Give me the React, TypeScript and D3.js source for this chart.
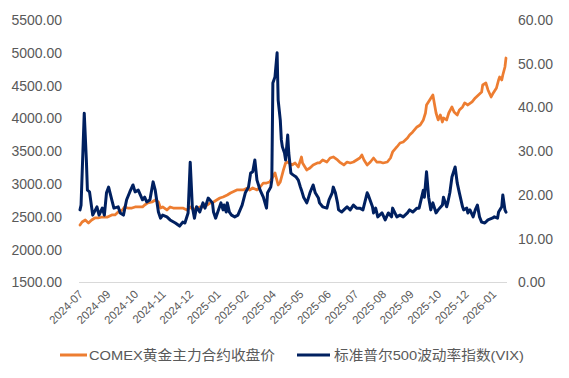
import React from "react";
import * as d3 from "d3";

// trading-day index (0 = 2024-07-01) and values
const goldT = [0,2,5,8,11,14,17,21,24,26,30,33,36,40,42,45,49,52,55,59,61,64,68,71,74,76,78,82,85,88,92,97,101,104,107,110,113,116,120,123,126,129,132,135,139,142,144,148,151,154,158,160,163,167,170,173,176,179,182,184,187,189,192,194,196,200,203,206,209,210,214,217,220,224,226,229,233,236,239,243,245,249,252,255,258,261,264,266,268,271,274,277,280,283,286,290,293,295,299,302,305,309,311,314,318,321,324,326,327,330,333,335,336,338,340,342,343,346,348,351,353,356,358,361,363,366,370,373,376,379,380,383,385,388,390,393,395,396,398,399,401,402];
const goldV = [2376,2422,2452,2407,2452,2483,2483,2498,2498,2498,2529,2529,2574,2605,2651,2635,2635,2651,2651,2651,2681,2712,2727,2757,2727,2635,2651,2605,2651,2635,2635,2635,2605,2651,2605,2635,2651,2651,2681,2712,2727,2757,2788,2803,2834,2864,2879,2910,2910,2910,2940,2910,2940,2910,2955,3016,3016,3032,3108,3169,2986,3032,3215,3321,3336,3291,3321,3260,3413,3321,3215,3245,3291,3321,3321,3367,3336,3397,3413,3367,3336,3291,3336,3321,3336,3367,3397,3443,3367,3291,3336,3397,3336,3336,3321,3336,3397,3489,3565,3626,3641,3702,3748,3794,3870,3900,3977,4083,4205,4281,4358,4175,4083,3977,4053,3946,4007,3977,4083,4175,4098,4053,4129,4175,4236,4205,4251,4312,4358,4403,4510,4540,4434,4327,4388,4464,4586,4632,4586,4662,4784,4921];

const vixT = [0,1,4,6,7,9,12,16,18,21,23,25,27,30,32,36,38,41,44,47,50,52,55,59,61,63,66,69,71,74,76,78,82,85,90,94,97,99,102,104,106,108,110,113,116,118,121,125,126,128,130,133,135,136,138,139,141,143,146,149,153,156,159,161,163,165,167,170,173,176,177,180,181,182,184,186,187,189,190,191,193,194,196,197,199,201,204,206,208,209,211,214,215,217,220,222,225,226,229,233,235,238,239,241,243,244,247,249,252,255,258,261,264,267,271,272,276,277,279,281,285,288,291,294,295,299,302,305,309,311,314,318,320,324,325,327,329,331,333,336,338,342,343,346,347,349,351,354,356,358,361,362,365,366,368,371,373,375,377,379,382,385,389,391,394,395,398,399,401,402];
const vixV = [16.6,17.7,38.7,28.0,21.1,20.7,15.4,17.3,15.4,17.0,15.4,20.5,21.8,18.9,17.0,17.3,15.9,15.4,18.9,20.7,22.3,20.7,21.1,18.9,19.5,18.4,18.9,23.0,21.1,16.1,14.7,15.4,15.0,14.3,13.6,12.9,13.8,13.6,15.9,27.5,17.3,14.7,17.3,16.1,18.2,17.0,19.3,18.2,16.1,14.7,16.1,18.2,16.6,17.7,16.1,18.2,16.1,15.4,15.0,15.4,17.7,20.5,21.8,25.0,25.3,28.0,23.4,21.1,19.5,17.0,20.5,21.8,23.4,45.6,47.0,52.5,41.7,37.1,32.6,31.0,29.6,28.0,33.7,29.6,25.0,24.6,24.1,23.4,21.8,21.1,19.5,18.2,18.9,20.5,22.3,20.5,19.3,18.2,17.3,17.0,18.9,20.5,21.8,20.5,18.2,16.6,16.1,16.6,17.3,16.6,17.7,17.0,17.0,16.6,20.5,20.0,17.3,15.9,17.0,15.0,15.9,14.3,15.9,15.0,17.0,15.0,15.4,15.0,15.9,16.6,16.1,17.0,17.0,21.1,19.5,25.3,19.5,16.6,18.2,15.9,16.6,17.7,19.5,17.3,18.2,20.5,24.1,26.4,22.7,20.5,17.3,16.6,17.0,15.9,16.6,15.0,16.6,17.7,15.0,13.8,13.6,14.3,14.7,15.0,14.7,16.1,17.3,20.0,16.6,16.1];

const xLabels = ["2024-07","2024-09","2024-10","2024-11","2024-12","2025-01","2025-02","2025-04","2025-05","2025-06","2025-07","2025-08","2025-09","2025-10","2025-12","2026-01"];
const labelEvery = 26;
const leftTicks = [1500,2000,2500,3000,3500,4000,4500,5000,5500];
const rightTicks = [0,10,20,30,40,50,60];
const seriesNames = ["COMEX黄金主力合约收盘价","标准普尔500波动率指数(VIX)"];

const W = 569, H = 378;
const FONT = "'Liberation Sans', Arial, 'Noto Sans CJK SC', sans-serif";
const GOLD = "#ED7D31", NAVY = "#002060", TXT = "#595959";

export default function App() {
  const x = d3.scaleLinear().domain([0, 402]).range([80, 506]);
  const yL = d3.scaleLinear().domain([1500, 5500]).range([282.5, 20]);
  const yR = d3.scaleLinear().domain([0, 60]).range([282.5, 20]);
  const goldLine = d3.line<number>().x((_, i) => x(goldT[i])).y(v => yL(v));
  const vixLine = d3.line<number>().x((_, i) => x(vixT[i])).y(v => yR(v));
  return (
    <svg width={W} height={H} style={{ position: "absolute", left: 0, top: 0, background: "#fff" }} fontFamily={FONT}>
      <line x1={79} x2={507} y1={yL(1500)} y2={yL(1500)} stroke="#D9D9D9" strokeWidth={1} />
      {leftTicks.map(t => (
        <text key={"l" + t} x={62} y={yL(t)} dy="0.35em" textAnchor="end" fontSize={14} fill={TXT}>{t.toFixed(2)}</text>
      ))}
      {rightTicks.map(t => (
        <text key={"r" + t} x={518} y={yR(t)} dy="0.35em" textAnchor="start" fontSize={14} fill={TXT}>{t.toFixed(2)}</text>
      ))}
      {xLabels.map((lab, i) => {
        const px = x(i * labelEvery);
        return (
          <text key={lab} transform={`translate(${px + 1},${292}) rotate(-45)`} dy="0.35em" textAnchor="end" fontSize={11.5} fill={TXT}>{lab}</text>
        );
      })}
      <path d={goldLine(goldV) || ""} fill="none" stroke={GOLD} strokeWidth={2.75} strokeLinejoin="round" strokeLinecap="round" />
      <path d={vixLine(vixV) || ""} fill="none" stroke={NAVY} strokeWidth={3} strokeLinejoin="round" strokeLinecap="round" />
      <line x1={60} x2={87} y1={355} y2={355} stroke={GOLD} strokeWidth={3} />
      <text x={89} y={355} dy="0.35em" fontSize={13.5} fill={TXT} textLength={186} lengthAdjust="spacingAndGlyphs">{seriesNames[0]}</text>
      <line x1={297} x2={330} y1={355} y2={355} stroke={NAVY} strokeWidth={3} />
      <text x={334} y={355} dy="0.35em" fontSize={13.5} fill={TXT} textLength={190} lengthAdjust="spacingAndGlyphs">{seriesNames[1]}</text>
    </svg>
  );
}
